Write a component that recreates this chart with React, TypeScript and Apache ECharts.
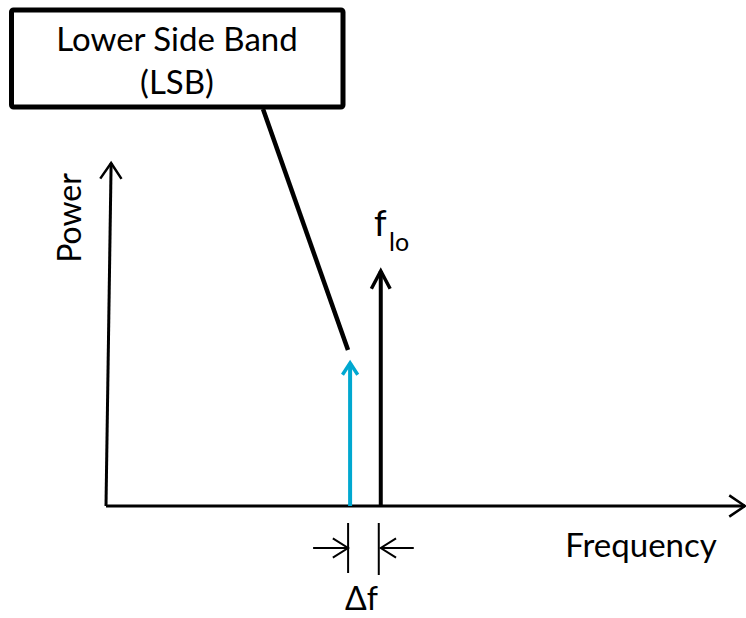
import React, { useEffect, useRef } from 'react';
import * as echarts from 'echarts';

const FONT = 'Lato, "Open Sans", sans-serif';

// Conceptual axes (arbitrary units)
const frequencyRange = [0, 100];
const powerRange = [0, 100];

// Axis arrows: [x0, y0, x1, y1]
const axisArrows = [
  [0, 0, 100, 0],
  [0, 0, 0.8, 100],
];

// Spectral lines
const signalNames = ['LSB', 'LO'];
const signalFreq = [38.2, 43.0];
const signalPower = [41.7, 68.5];
const signalColors = ['#00a8d0', '#000000'];

// Labels
const boxLines = ['Lower Side Band', '(LSB)'];
const xAxisName = 'Frequency';
const yAxisName = 'Power';
const loLabel = ['f', 'lo'];
const deltaLabel = 'Δf';

export default function App() {
  const ref = useRef<HTMLDivElement>(null);
  useEffect(() => {
    if (!ref.current) return;
    const chart = echarts.init(ref.current, null, { renderer: 'svg' });

    const arrowData = [
      ...axisArrows.map((a) => ({ value: a, color: '#000', width: 3, head: 19, ang: 34 })),
      ...signalFreq.map((f, i) => ({
        value: [f, 0, f, signalPower[i]],
        color: signalColors[i],
        width: 4,
        head: i === 0 ? 14 : 20,
        ang: i === 0 ? 33 : 28,
      })),
    ];

    const renderArrow = (params: any, api: any) => {
      const d = arrowData[params.dataIndex];
      const p0 = api.coord([api.value(0), api.value(1)]);
      const p1 = api.coord([api.value(2), api.value(3)]);
      const ang = Math.atan2(p1[1] - p0[1], p1[0] - p0[0]);
      const a = (d.ang * Math.PI) / 180;
      const w1 = [p1[0] - d.head * Math.cos(ang - a), p1[1] - d.head * Math.sin(ang - a)];
      const w2 = [p1[0] - d.head * Math.cos(ang + a), p1[1] - d.head * Math.sin(ang + a)];
      return {
        type: 'group',
        children: [
          {
            type: 'line',
            shape: { x1: p0[0], y1: p0[1], x2: p1[0], y2: p1[1] },
            style: { stroke: d.color, lineWidth: d.width, lineCap: 'butt' },
          },
          {
            type: 'polyline',
            shape: { points: [w1, p1, w2] },
            style: { stroke: d.color, lineWidth: d.width - 0.5, fill: null, lineJoin: 'miter' },
          },
        ],
      };
    };

    const renderDelta = (params: any, api: any) => {
      const pa = api.coord([api.value(0), 0]);
      const pb = api.coord([api.value(1), 0]);
      const xl = pa[0] - 2;
      const xr = pb[0] - 2;
      const yTop = pa[1] + 17;
      const yBot = pa[1] + 67;
      const ya = pa[1] + 42;
      const st = { stroke: '#000', lineWidth: 2 };
      const hl = 18;
      const ha = (32 * Math.PI) / 180;
      const dx = hl * Math.cos(ha);
      const dy = hl * Math.sin(ha);
      return {
        type: 'group',
        children: [
          { type: 'line', shape: { x1: xl, y1: yTop, x2: xl, y2: yBot }, style: st },
          { type: 'line', shape: { x1: xr, y1: yTop, x2: xr, y2: yBot + 2 }, style: st },
          { type: 'line', shape: { x1: xl - 35, y1: ya, x2: xl, y2: ya }, style: st },
          { type: 'polyline', shape: { points: [[xl - dx, ya - dy], [xl, ya], [xl - dx, ya + dy]] }, style: { ...st, fill: null } },
          { type: 'line', shape: { x1: xr + 35, y1: ya, x2: xr + 2, y2: ya }, style: st },
          { type: 'polyline', shape: { points: [[xr + 2 + dx, ya - dy], [xr + 2, ya], [xr + 2 + dx, ya + dy]] }, style: { ...st, fill: null } },
          {
            type: 'text',
            style: {
              text: deltaLabel,
              x: (xl + xr) / 2 - 2,
              y: pa[1] + 91,
              fontSize: 32,
              fontFamily: FONT,
              fill: '#000',
              align: 'center',
              verticalAlign: 'middle',
            },
          },
        ],
      };
    };

    chart.setOption({
      animation: false,
      backgroundColor: '#ffffff',
      grid: { left: 106, right: 1, top: 163, bottom: 112 },
      xAxis: { type: 'value', min: frequencyRange[0], max: frequencyRange[1], show: false },
      yAxis: { type: 'value', min: powerRange[0], max: powerRange[1], show: false },
      series: [
        {
          type: 'custom',
          name: 'arrows',
          renderItem: renderArrow,
          data: arrowData.map((d) => d.value),
          clip: false,
          silent: true,
        },
        {
          type: 'custom',
          name: 'delta',
          renderItem: renderDelta,
          data: [[signalFreq[0], signalFreq[1]]],
          clip: false,
          silent: true,
        },
      ],
      graphic: [
        {
          type: 'rect',
          shape: { x: 11.5, y: 10, width: 331.5, height: 97, r: 2 },
          style: { fill: '#fff', stroke: '#000', lineWidth: 5 },
        },
        {
          type: 'text',
          style: {
            text: boxLines.join('\n'),
            x: 177,
            y: 59,
            fontSize: 33,
            lineHeight: 43,
            fontFamily: FONT,
            fill: '#000',
            align: 'center',
            verticalAlign: 'middle',
          },
        },
        {
          type: 'line',
          shape: { x1: 263, y1: 109, x2: 348, y2: 350 },
          style: { stroke: '#000', lineWidth: 4.5 },
        },
        {
          type: 'text',
          x: 68,
          y: 218,
          rotation: Math.PI / 2,
          style: {
            text: yAxisName,
            x: 0,
            y: 0,
            fontSize: 32,
            fontFamily: FONT,
            fill: '#000',
            align: 'center',
            verticalAlign: 'middle',
          },
        },
        {
          type: 'text',
          style: {
            text: xAxisName,
            x: 641,
            y: 544,
            fontSize: 33,
            fontFamily: FONT,
            fill: '#000',
            align: 'center',
            verticalAlign: 'middle',
          },
        },
        {
          type: 'text',
          style: {
            text: loLabel[0],
            x: 374,
            y: 240,
            fontSize: 36,
            fontFamily: FONT,
            fill: '#000',
            align: 'left',
            verticalAlign: 'bottom',
          },
        },
        {
          type: 'text',
          style: {
            text: loLabel[1],
            x: 389,
            y: 253,
            fontSize: 25,
            fontFamily: FONT,
            fill: '#000',
            align: 'left',
            verticalAlign: 'bottom',
          },
        },
      ],
    });
    return () => chart.dispose();
  }, []);
  return (
    <div
      ref={ref}
      style={{ position: 'fixed', left: 0, top: 0, width: 746, height: 618 }}
    />
  );
}
